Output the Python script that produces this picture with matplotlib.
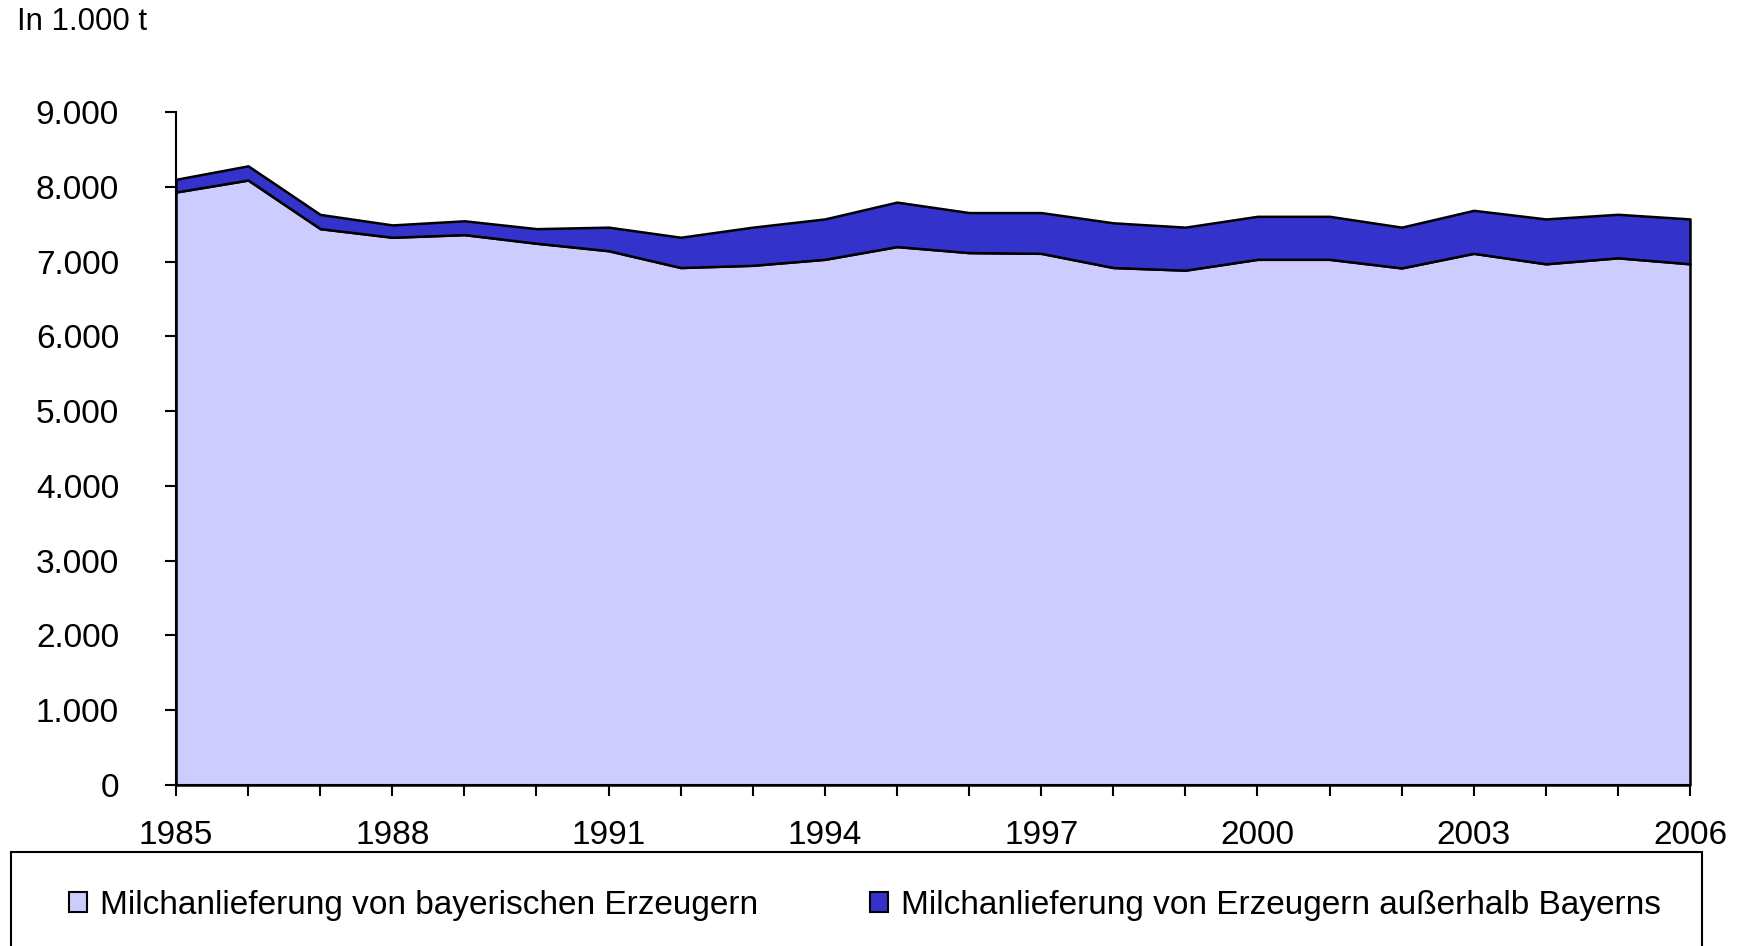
import matplotlib.pyplot as plt
from matplotlib.patches import Patch, Rectangle

# Milchanlieferung in 1.000 t
years = list(range(1985, 2007))
bayern = [7930, 8090, 7440, 7325, 7360, 7245, 7145, 6920, 6950, 7030, 7200,
          7120, 7110, 6920, 6885, 7030, 7030, 6915, 7110, 6970, 7050, 6970]
gesamt = [8100, 8280, 7630, 7490, 7545, 7440, 7460, 7325, 7460, 7570, 7795,
          7655, 7655, 7518, 7460, 7605, 7605, 7460, 7685, 7570, 7632, 7570]
ausserhalb = [g - b for g, b in zip(gesamt, bayern)]

labels = ["Milchanlieferung von bayerischen Erzeugern",
          "Milchanlieferung von Erzeugern außerhalb Bayerns"]
colors = ["#ccccff", "#3333cc"]
yticks = list(range(0, 9001, 1000))
ytick_labels = ["0"] + [f"{v // 1000}.000" for v in yticks[1:]]
xtick_labels = [str(y) if (y - 1985) % 3 == 0 else "" for y in years]

plt.rcParams["font.family"] = ["Liberation Sans", "DejaVu Sans"]
fs = 24

fig = plt.figure(figsize=(17.44, 9.46), dpi=100)
ax = fig.add_axes([176 / 1744, 1 - 785 / 946, 1514 / 1744, 673 / 946])

ax.stackplot(years, bayern, ausserhalb, colors=colors,
             edgecolor="black", linewidth=1.8, clip_on=False, zorder=2)

ax.set_xlim(1985, 2006)
ax.set_ylim(0, 9000)
ax.set_yticks(yticks)
ax.set_yticklabels(ytick_labels, fontsize=fs)
ax.set_xticks(years)
ax.set_xticklabels(xtick_labels, fontsize=fs)
ax.tick_params(axis="y", direction="out", length=8, width=1.5, pad=33)
ax.tick_params(axis="x", direction="out", length=8, width=1.5, pad=17)

for side in ["top", "right"]:
    ax.spines[side].set_visible(False)
for side in ["left", "bottom"]:
    ax.spines[side].set_linewidth(1.5)
    ax.spines[side].set_zorder(3)

fig.text(17 / 1744, 1 - 22 / 946, "In 1.000 t", fontsize=22.5, va="center", ha="left")

# Legendenrahmen (unten abgeschnitten)
fig.patches.append(Rectangle((11 / 1744, -0.1), (1702 - 11) / 1744, 0.1 + 1 - 852 / 946,
                             transform=fig.transFigure, fill=False,
                             edgecolor="black", linewidth=1.5))

handles = [Patch(facecolor=c, edgecolor="black", linewidth=1.5) for c in colors]
fig.legend(handles, labels, loc="center left", bbox_to_anchor=(69 / 1744, 1 - 905 / 946),
           ncol=2, frameon=False, fontsize=fs, handlelength=0.54, handleheight=0.54,
           handletextpad=0.39, columnspacing=3.36, borderpad=0, borderaxespad=0)

fig.savefig("out.png", dpi=100)
